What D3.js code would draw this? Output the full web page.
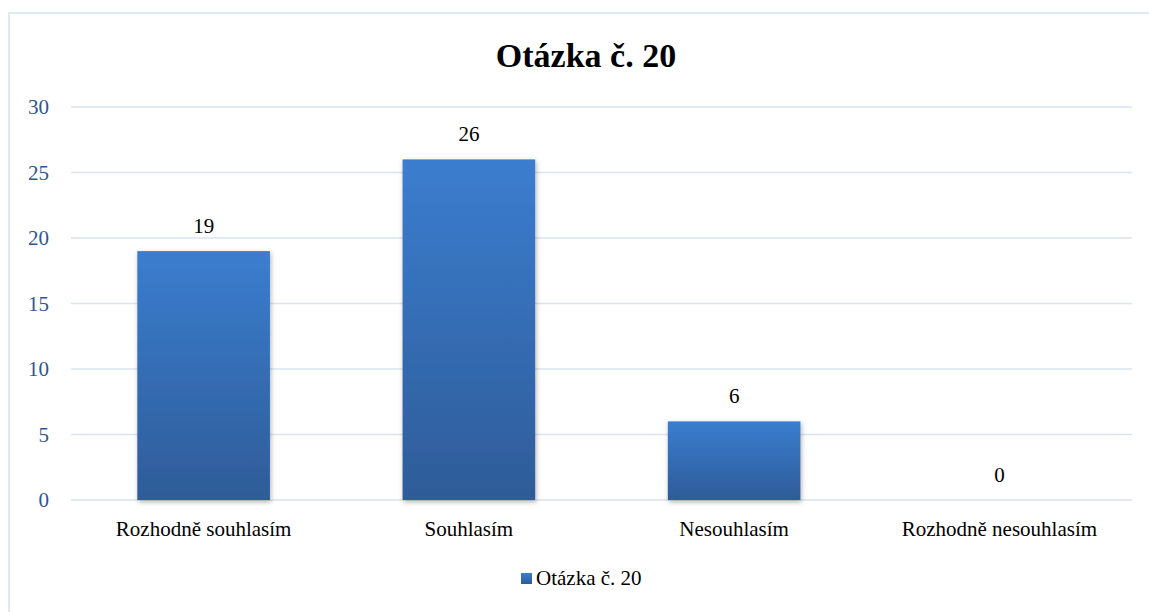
<!DOCTYPE html>
<html>
<head>
<meta charset="utf-8">
<script src="https://cdn.jsdelivr.net/npm/d3@7"></script>
</head>
<body style="margin:0">
<svg id="chart" width="1149" height="612"></svg>
<script>
var title = "Otázka č. 20";
var categories = ["Rozhodně souhlasím", "Souhlasím", "Nesouhlasím", "Rozhodně nesouhlasím"];
var values = [19, 26, 6, 0];
var yTicks = [0, 5, 10, 15, 20, 25, 30];

var width = 1149, height = 612;
var margin = {top: 107, right: 17, bottom: 112, left: 71};
var fontList = '"Liberation Serif", monospace';

var svg = d3.select("#chart")

var defs = svg.append("defs")
var grad = defs.append("linearGradient")
	.attr("id", "barGrad")
	.attr("x1", 0).attr("y1", 0).attr("x2", 0).attr("y2", 1)
grad.append("stop").attr("offset", "0%").attr("stop-color", "#3b7dcf")
grad.append("stop").attr("offset", "100%").attr("stop-color", "#2e5c98")

var shadow = defs.append("filter").attr("id", "shadow")
	.attr("x", "-10%").attr("y", "-10%").attr("width", "130%").attr("height", "130%")
shadow.append("feDropShadow")
	.attr("dx", 1).attr("dy", 2).attr("stdDeviation", 2.5)
	.attr("flood-color", "#000").attr("flood-opacity", 0.3)

// chart area border
svg.append("rect")
	.attr("x", 9).attr("y", 13)
	.attr("width", 1160).attr("height", 640)
	.attr("fill", "none")
	.attr("stroke", "#d6e3f3")
	.attr("stroke-width", 1.5)

var x = d3.scaleBand()
	.domain(categories)
	.range([margin.left, width - margin.right])
	.paddingInner(0.5)
	.paddingOuter(0.25)

var y = d3.scaleLinear()
	.domain([0, 30])
	.range([height - margin.bottom, margin.top])

// gridlines
svg.append("g")
	.selectAll("line")
	.data(yTicks)
	.enter().append("line")
	.attr("x1", margin.left)
	.attr("x2", width - margin.right)
	.attr("y1", d => y(d))
	.attr("y2", d => y(d))
	.attr("stroke", "#d9e3f1")
	.attr("stroke-width", 1.5)

// bars
svg.append("g")
	.selectAll("rect")
	.data(values)
	.enter().append("rect")
	.attr("x", (d, i) => x(categories[i]))
	.attr("y", d => y(d))
	.attr("width", x.bandwidth())
	.attr("height", d => y(0) - y(d))
	.attr("fill", "url(#barGrad)")
	.attr("filter", d => d > 0 ? "url(#shadow)" : null)

// y axis labels
svg.append("g")
	.selectAll("text")
	.data(yTicks)
	.enter().append("text")
	.attr("x", margin.left - 22)
	.attr("y", d => y(d))
	.attr("dy", "0.35em")
	.attr("text-anchor", "end")
	.attr("font-size", 21)
	.attr("fill", "#2f5592")
	.style("font-family", fontList)
	.text(d => d)

// value labels
svg.append("g")
	.selectAll("text")
	.data(values)
	.enter().append("text")
	.attr("x", (d, i) => x(categories[i]) + x.bandwidth() / 2)
	.attr("y", d => y(d) - 18)
	.attr("text-anchor", "middle")
	.attr("font-size", 21)
	.attr("fill", "#000")
	.style("font-family", fontList)
	.text(d => d)

// category labels
svg.append("g")
	.selectAll("text")
	.data(categories)
	.enter().append("text")
	.attr("x", d => x(d) + x.bandwidth() / 2)
	.attr("y", y(0) + 36)
	.attr("text-anchor", "middle")
	.attr("font-size", 21)
	.attr("fill", "#000")
	.style("font-family", fontList)
	.text(d => d)

// title
svg.append("text")
	.attr("x", 586)
	.attr("y", 67)
	.attr("text-anchor", "middle")
	.attr("font-size", 34)
	.attr("font-weight", "bold")
	.attr("fill", "#000")
	.style("font-family", fontList)
	.text(title)

// legend
var legend = svg.append("g").attr("transform", "translate(521, 578)")
legend.append("rect")
	.attr("x", 0).attr("y", -5)
	.attr("width", 11).attr("height", 11)
	.attr("fill", "url(#barGrad)")
legend.append("text")
	.attr("x", 15)
	.attr("y", 7)
	.attr("font-size", 21)
	.attr("fill", "#000")
	.style("font-family", fontList)
	.text(title)
</script>
</body>
</html>
